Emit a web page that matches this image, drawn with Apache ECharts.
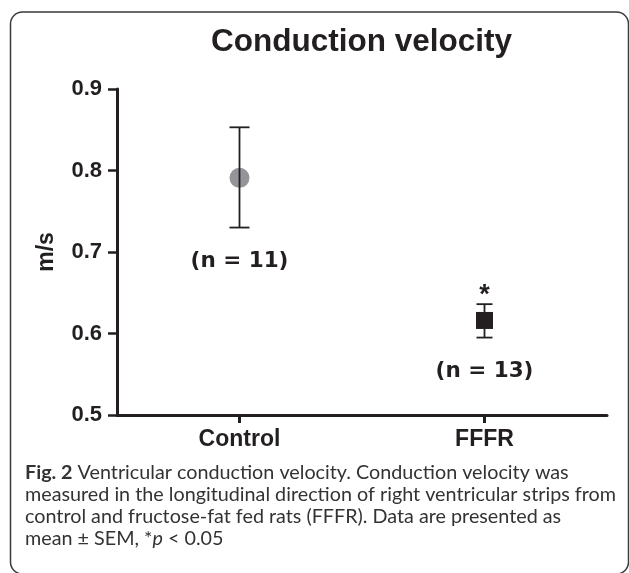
<!DOCTYPE html>
<html>
<head>
<meta charset="utf-8">
<script src="https://cdn.jsdelivr.net/npm/echarts@6/dist/echarts.min.js"></script>
<style>
html,body{margin:0;padding:0;background:#fff;}
#chart{width:629px;height:573px;}
</style>
</head>
<body>
<div id="chart"></div>
<script>
// ---- data ----
const categories = ['Control', 'FFFR'];
const means = [0.791, 0.616];
const errLow = [0.730, 0.595];
const errHigh = [0.853, 0.636];
const nLabels = ['(n = 11)', '(n = 13)'];
const sigMarks = ['', '*'];
const yTicks = [0.5, 0.6, 0.7, 0.8, 0.9];
const titleText = 'Conduction velocity';
const yName = 'm/s';

const ink = '#231f20';
const captionFamily = 'Lato, "Open Sans", sans-serif';
const captionLines = [
  'Ventricular conduction velocity. Conduction velocity was',
  'measured in the longitudinal direction of right ventricular strips from',
  'control and fructose-fat fed rats (FFFR). Data are presented as',
  'mean \u00b1 SEM, *{i|p} < 0.05'
];

function fitSize(text, family, target) {
  const c = document.createElement('canvas').getContext('2d');
  c.font = '100px ' + family;
  return 100 * target / c.measureText(text).width;
}
const capSize = Math.min(20, fitSize(captionLines[1], captionFamily, 591));

const chart = echarts.init(document.getElementById('chart'), null, {renderer: 'canvas'});

const option = {
  animation: false,
  backgroundColor: '#fff',
  title: {
    text: titleText,
    left: 206,
    top: 21,
    textStyle: {fontFamily: '"Liberation Sans", Arial, sans-serif', fontWeight: 'bold', fontSize: 31.5, color: ink}
  },
  grid: {left: 117, right: 22, top: 89, bottom: 158, containLabel: false},
  xAxis: {
    type: 'category',
    data: categories,
    boundaryGap: true,
    axisLine: {show: true, lineStyle: {color: ink, width: 3}},
    axisTick: {show: true, alignWithLabel: true, length: 8, lineStyle: {color: ink, width: 3}},
    axisLabel: {fontFamily: '"Liberation Sans", Arial, sans-serif', fontWeight: 'bold', fontSize: 23, color: ink, margin: 13},
    splitLine: {show: false}
  },
  yAxis: {
    type: 'value',
    min: yTicks[0],
    max: yTicks[yTicks.length - 1],
    interval: 0.1,
    name: yName,
    nameLocation: 'middle',
    nameRotate: 90,
    nameGap: 59,
    nameTextStyle: {fontFamily: '"Liberation Sans", Arial, sans-serif', fontWeight: 'bold', fontSize: 23, color: ink},
    axisLine: {show: true, lineStyle: {color: ink, width: 3}},
    axisTick: {show: true, length: 9, lineStyle: {color: ink, width: 2.5}},
    axisLabel: {fontFamily: '"Liberation Sans", Arial, sans-serif', fontWeight: 'bold', fontSize: 22, color: ink, margin: 15,
      formatter: v => v.toFixed(1)},
    splitLine: {show: false}
  },
  series: [
    {
      type: 'scatter',
      z: 2,
      data: means.map((m, i) => ({
        value: [i, m],
        symbol: i === 0 ? 'circle' : 'rect',
        symbolSize: i === 0 ? 20 : 17,
        itemStyle: {color: i === 0 ? '#939598' : ink, opacity: 1}
      }))
    },
    {
      type: 'custom',
      z: 3,
      data: categories.map((c, i) => [i, errLow[i], errHigh[i]]),
      renderItem: function (params, api) {
        const i = api.value(0);
        const lo = api.coord([i, api.value(1)]);
        const hi = api.coord([i, api.value(2)]);
        const x = lo[0];
        const half = i === 0 ? 10 : 8;
        const ls = {stroke: ink, lineWidth: 1.8};
        const children = [
          {type: 'line', shape: {x1: x, y1: lo[1], x2: x, y2: hi[1]}, style: ls},
          {type: 'line', shape: {x1: x - half, y1: lo[1], x2: x + half, y2: lo[1]}, style: ls},
          {type: 'line', shape: {x1: x - half, y1: hi[1], x2: x + half, y2: hi[1]}, style: ls},
          {type: 'text', style: {text: nLabels[i], x: x, y: lo[1] + 34, textAlign: 'center', textVerticalAlign: 'middle',
            fontFamily: '"DejaVu Sans", sans-serif', fontWeight: 'bold', fontSize: 21.5, fill: ink}}
        ];
        if (sigMarks[i]) {
          children.push({type: 'text', style: {text: sigMarks[i], x: x, y: hi[1] - 9, textAlign: 'center', textVerticalAlign: 'middle',
            fontFamily: '"Liberation Sans", Arial, sans-serif', fontWeight: 'bold', fontSize: 27, fill: ink}});
        }
        return {type: 'group', children: children};
      }
    }
  ],
  graphic: [
    {
      type: 'rect',
      shape: {x: 10.5, y: 12, width: 618, height: 562, r: 12},
      style: {fill: 'none', stroke: '#3a3a3a', lineWidth: 1.5},
      silent: true
    },
    {
      type: 'text',
      left: 25,
      top: 462,
      style: {
        text: '{b|Fig. 2} ' + captionLines.join('\n'),
        fontFamily: captionFamily,
        fontSize: capSize,
        lineHeight: 21.8,
        fill: '#333',
        rich: {
          b: {fontFamily: captionFamily, fontSize: capSize, fontWeight: 'bold', fill: '#333', lineHeight: 21.8},
          i: {fontFamily: captionFamily, fontSize: capSize, fontStyle: 'italic', fill: '#333', lineHeight: 21.8}
        }
      }
    }
  ]
};
chart.setOption(option);
</script>
</body>
</html>
